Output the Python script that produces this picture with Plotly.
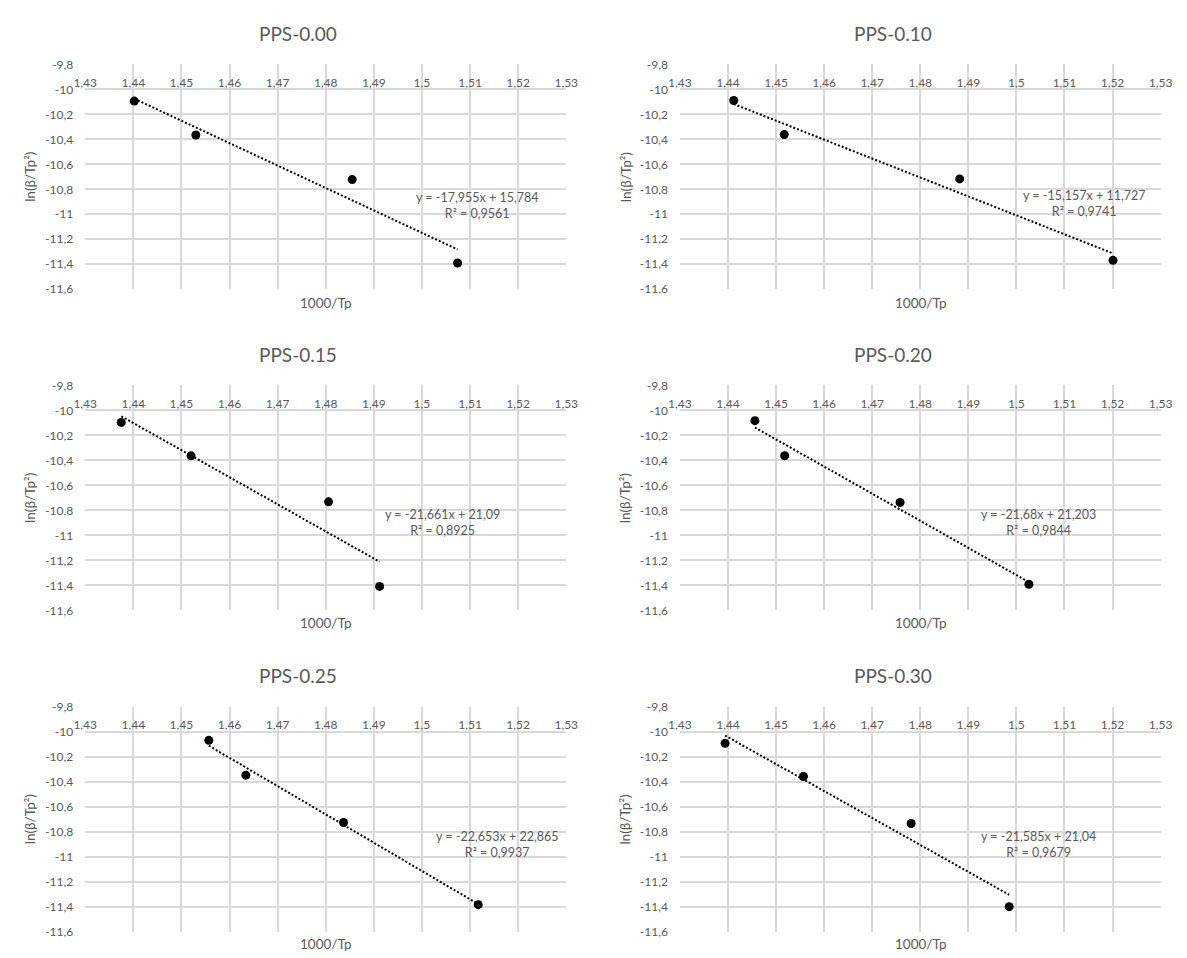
import plotly.graph_objects as go

# ---------------- data ----------------
titles = ["PPS-0.00", "PPS-0.10", "PPS-0.15", "PPS-0.20", "PPS-0.25", "PPS-0.30"]

x_pps000 = [1.4402, 1.4530, 1.4855, 1.5074]
y_pps000 = [-10.094, -10.365, -10.722, -11.390]
x_pps010 = [1.4412, 1.4517, 1.4882, 1.5201]
y_pps010 = [-10.089, -10.362, -10.717, -11.369]
x_pps015 = [1.4375, 1.4520, 1.4806, 1.4912]
y_pps015 = [-10.097, -10.364, -10.732, -11.408]
x_pps020 = [1.4456, 1.4518, 1.4758, 1.5026]
y_pps020 = [-10.083, -10.363, -10.737, -11.391]
x_pps025 = [1.4557, 1.4634, 1.4837, 1.5117]
y_pps025 = [-10.068, -10.347, -10.726, -11.384]
x_pps030 = [1.4394, 1.4557, 1.4781, 1.4985]
y_pps030 = [-10.092, -10.358, -10.734, -11.400]

slopes = [-17.955, -15.157, -21.661, -21.68, -22.653, -21.585]
intercepts = [15.784, 11.727, 21.09, 21.203, 22.865, 21.04]
r2_values = ["0,9561", "0,9741", "0,8925", "0,9844", "0,9937", "0,9679"]
eq_texts = ["y = -17,955x + 15,784", "y = -15,157x + 11,727", "y = -21,661x + 21,09",
            "y = -21,68x + 21,203", "y = -22,653x + 22,865", "y = -21,585x + 21,04"]

x_tickvals = [1.43, 1.44, 1.45, 1.46, 1.47, 1.48, 1.49, 1.50, 1.51, 1.52, 1.53]
x_ticktext = ["1,43", "1,44", "1,45", "1,46", "1,47", "1,48", "1,49", "1,5", "1,51", "1,52", "1,53"]
y_tickvals = [-9.8, -10.0, -10.2, -10.4, -10.6, -10.8, -11.0, -11.2, -11.4, -11.6]
y_ticktext = ["-9,8", "-10", "-10,2", "-10,4", "-10,6", "-10,8", "-11", "-11,2", "-11,4", "-11,6"]

x_title = "1000/Tp"
y_title = "ln(β/Tp²)"

xs = [x_pps000, x_pps010, x_pps015, x_pps020, x_pps025, x_pps030]
ys = [y_pps000, y_pps010, y_pps015, y_pps020, y_pps025, y_pps030]

# ---------------- layout / style ----------------
W, H = 1187, 958
FONT = "Lato, 'Open Sans', sans-serif"
TXT = "#595959"
GRID = "#d9d9d9"

col_px = [(74.7, 565.7), (681.7, 1172.3)]
row_px = [(57.3, 285.7), (383.3, 612.0), (710.0, 938.3)]
title_x_px = [292.0, 899.0]
title_y_px = [26.0, 351.7, 677.7]
ylab_x_px = [18.4, 626.0]
xlab_shift = [-14, -13, -12]
# equation label anchors (in data coords of each panel)
eq_pos = [(1.5114, -10.932), (1.5140, -10.915), (1.5043, -10.901),
          (1.5046, -10.898), (1.5156, -10.901), (1.5047, -10.901)]

xr = [1.43, 1.53]
yr = [-11.6, -9.8]

fig = go.Figure()
annotations = []
layout = {}

for i in range(6):
    r, c = divmod(i, 2)
    n = i + 1
    xa = "x" if n == 1 else f"x{n}"
    ya = "y" if n == 1 else f"y{n}"
    xkey = "xaxis" if n == 1 else f"xaxis{n}"
    ykey = "yaxis" if n == 1 else f"yaxis{n}"

    x0p, x1p = col_px[c]
    ytop, ybot = row_px[r]
    xdom = [x0p / W, x1p / W]
    ydom = [1 - ybot / H, 1 - ytop / H]
    pos = ydom[0] + (-10.0 - yr[0]) / (yr[1] - yr[0]) * (ydom[1] - ydom[0])

    layout[xkey] = dict(
        domain=xdom, range=xr, anchor="free", position=pos, side="top",
        tickvals=x_tickvals, ticktext=x_ticktext, showgrid=True,
        gridcolor=GRID, gridwidth=2, showline=False, zeroline=False,
        ticks="", tickfont=dict(family=FONT, size=12, color=TXT),
        ticklabelstandoff=0, fixedrange=True,
    )
    layout[ykey] = dict(
        domain=ydom, range=yr, anchor=xa,
        tickvals=y_tickvals, ticktext=y_ticktext, showgrid=True,
        gridcolor=GRID, gridwidth=2, showline=False, zeroline=False,
        ticks="", tickfont=dict(family=FONT, size=12, color=TXT),
        ticklabelstandoff=11, fixedrange=True,
    )

    # data points
    fig.add_trace(go.Scatter(
        x=xs[i], y=ys[i], mode="markers", xaxis=xa, yaxis=ya,
        marker=dict(color="black", size=9), showlegend=False, hoverinfo="x+y",
    ))
    # linear trend line from the chart's equation
    tx = [min(xs[i]), max(xs[i])]
    ty = [slopes[i] * v + intercepts[i] for v in tx]
    fig.add_trace(go.Scatter(
        x=tx, y=ty, mode="lines", xaxis=xa, yaxis=ya,
        line=dict(color="black", width=2, dash="2px,2px"), showlegend=False,
        hoverinfo="skip",
    ))

    # equation label
    annotations.append(dict(
        x=eq_pos[i][0], y=eq_pos[i][1], xref=xa, yref=ya,
        text=f"{eq_texts[i]}<br>R² = {r2_values[i]}", showarrow=False,
        align="center", xanchor="center", yanchor="middle",
        font=dict(family=FONT, size=12.5, color=TXT),
    ))
    # panel title
    annotations.append(dict(
        x=title_x_px[c] / W, y=1 - title_y_px[r] / H, xref="paper", yref="paper",
        text=titles[i], showarrow=False, xanchor="center", yanchor="middle",
        font=dict(family=FONT, size=19, color=TXT),
    ))
    # x axis title (below plot area)
    annotations.append(dict(
        x=(xdom[0] + xdom[1]) / 2, y=ydom[0], xref="paper", yref="paper",
        text=x_title, showarrow=False, xanchor="center", yanchor="middle",
        yshift=xlab_shift[r], font=dict(family=FONT, size=13.5, color=TXT),
    ))
    # y axis title
    annotations.append(dict(
        x=ylab_x_px[c] / W, y=(ydom[0] + ydom[1]) / 2, xref="paper", yref="paper",
        text=y_title, showarrow=False, textangle=-90, xanchor="center",
        yanchor="middle", font=dict(family=FONT, size=13.5, color=TXT),
    ))

fig.update_layout(
    width=W, height=H, margin=dict(l=0, r=0, t=0, b=0),
    paper_bgcolor="white", plot_bgcolor="white",
    annotations=annotations, showlegend=False, **layout,
)

fig.write_html(
    "out.html",
    config={"displayModeBar": False},
    post_script="document.body.style.margin='0px';document.body.style.overflow='hidden';",
)
